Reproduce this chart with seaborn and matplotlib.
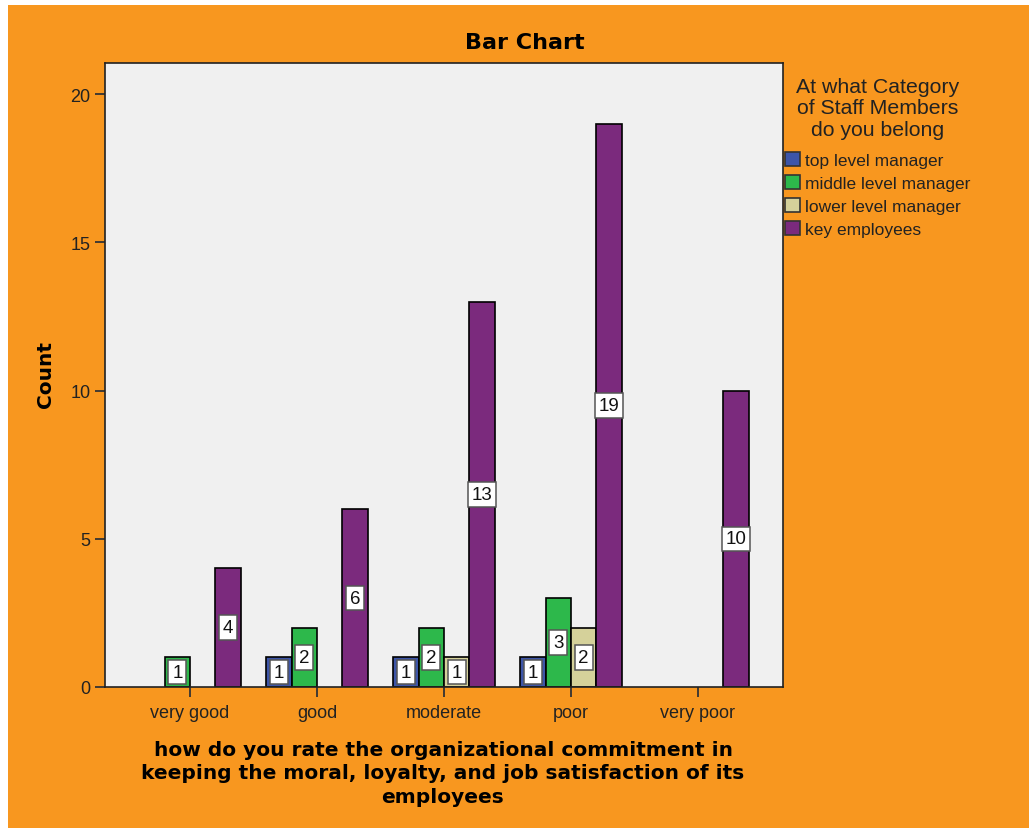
import matplotlib
matplotlib.use("Agg")
import matplotlib.pyplot as plt
from matplotlib.patches import Rectangle
import seaborn as sns
import pandas as pd

categories = ["very good", "good", "moderate", "poor", "very poor"]
series = ["top level manager", "middle level manager", "lower level manager", "key employees"]
top_level = [0, 1, 1, 1, 0]
middle_level = [1, 2, 2, 3, 0]
lower_level = [0, 0, 1, 2, 0]
key_employees = [4, 6, 13, 19, 10]
colors = ["#3D55A8", "#2DB84B", "#D5D19A", "#7B2A7D"]

values = [top_level, middle_level, lower_level, key_employees]
rows = []
for s, vals in zip(series, values):
    for c, v in zip(categories, vals):
        if v > 0:
            rows.append({"rating": c, "group": s, "count": v})
df = pd.DataFrame(rows)

sns.set_style("white")
plt.rcParams["font.family"] = ["Liberation Sans", "DejaVu Sans"]

W, H = 1029, 829
fig = plt.figure(figsize=(W / 100, H / 100), dpi=100, facecolor="white")
fig.patches.append(Rectangle((8 / W, -0.05), 1.1, 1.05 - 6 / H, transform=fig.transFigure,
                             facecolor="#F8971F", edgecolor="none", zorder=-10))

ax = fig.add_axes([105 / W, (H - 688) / H, 678 / W, 624 / H])
ax.set_facecolor("#F0F0F0")

sns.barplot(data=df, x="rating", y="count", hue="group", order=categories, hue_order=series,
            palette=colors, width=0.8, edgecolor="black", linewidth=1.2, saturation=1,
            errorbar=None, ax=ax, legend=True)

for cont in ax.containers:
    labels = [f"{int(round(b.get_height()))}" for b in cont]
    texts = ax.bar_label(cont, labels=labels, label_type="center", fontsize=13.5, color="#111111",
                         bbox=dict(boxstyle="square,pad=0.2", facecolor="white",
                                   edgecolor="#555555", linewidth=1.1))
    for t in texts:
        t.set_clip_on(False)
        t.set_zorder(5)

ax.set_xlim(-0.67, 4.67)
ax.set_ylim(0, 21.05)
ax.set_yticks([0, 5, 10, 15, 20])
ax.set_xlabel("")
ax.set_ylabel("")
ax.tick_params(axis="both", direction="out", length=7, width=1.3, color="#333333",
               labelsize=13, labelcolor="#222222", bottom=True, left=True)
ax.tick_params(axis="x", pad=5)
for sp in ax.spines.values():
    sp.set_color("#222222")
    sp.set_linewidth(1.2)

leg = ax.legend(title="At what Category\nof Staff Members\ndo you belong",
                loc="upper left", bbox_to_anchor=(785 / W, (H - 78) / H),
                bbox_transform=fig.transFigure, frameon=False, fontsize=12.5,
                title_fontsize=15.3, handlelength=0.85, handleheight=0.85, handletextpad=0.3,
                labelspacing=0.4, borderpad=0, borderaxespad=0, alignment="center")
for t in leg.get_texts():
    t.set_color("#222222")
title = leg.get_title()
title.set_color("#222222")
title.set_multialignment("center")
title.set_linespacing(1.15)
leg._legend_box.sep = 10
for h in leg.legend_handles:
    h.set_edgecolor("#333333")
    h.set_linewidth(1.2)

fig.text(525 / W, (H - 43) / H, "Bar Chart", ha="center", va="center", fontsize=16,
         fontweight="bold", family="DejaVu Sans", color="black")
fig.text(45 / W, (H - 374) / H, "Count", rotation=90, ha="center", va="center", fontsize=14.5,
         fontweight="bold", family="DejaVu Sans", color="black")
fig.text(443 / W, (H - 774) / H,
         "how do you rate the organizational commitment in\nkeeping the moral, loyalty, and job satisfaction of its\nemployees",
         ha="center", va="center", fontsize=14.5, fontweight="bold", family="DejaVu Sans",
         color="black", linespacing=1.3)

fig.savefig("out.png", dpi=100, facecolor=fig.get_facecolor())
